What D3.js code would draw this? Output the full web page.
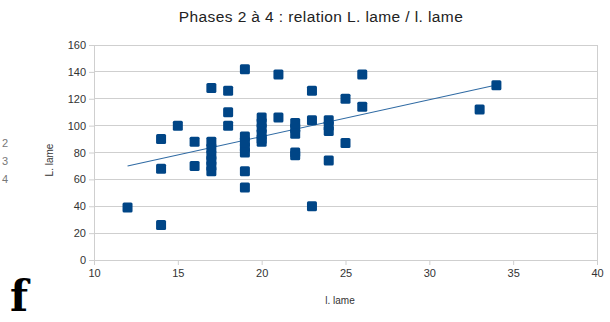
<!DOCTYPE html>
<html><head><meta charset="utf-8">
<script src="https://cdn.jsdelivr.net/npm/d3@7"></script>
<style>body{margin:0;background:#fff}svg{display:block}</style>
</head><body>
<script>
const title = "Phases 2 à 4 : relation L. lame / l. lame";
const xLabel = "l. lame";
const yLabel = "L. lame";
const xTicks = [10,15,20,25,30,35,40];
const yTicks = [0,20,40,60,80,100,120,140,160];
const largeur = [12,14,14,14,15,16,16,17,17,17,17,17,17,17,18,18,18,19,19,19,19,19,19,19,20,20,20,20,20,20,21,21,22,22,22,22,22,23,23,23,24,24,24,24,25,25,26,26,33,34];
const longueur = [39,90,68,26,100,88,70,128,88,83,78,74,70,66,126,110,100,142,92,88,84,80,66,54,106,102,98,94,90,88,138,106,102,98,94,80,78,126,104,40,104,100,96,74,120,87,138,114,112,130];
const legendResidue = ["2","3","4"];

const W=610,H=322;
const svg=d3.select("body").append("svg").attr("width",W).attr("height",H);
const x=d3.scaleLinear().domain([10,40]).range([94,597]);
const y=d3.scaleLinear().domain([0,160]).range([260,45]);
const grid="#cfcfcf";

svg.append("text").attr("x",321).attr("y",22).attr("text-anchor","middle")
  .attr("font-family","Liberation Sans, Arial, sans-serif").attr("font-size",15.5)
  .attr("letter-spacing",0.4).attr("fill","#222").text(title);

svg.append("g").selectAll("line").data(yTicks).join("line")
  .attr("x1",x(10)).attr("x2",x(40)).attr("y1",d=>y(d)).attr("y2",d=>y(d))
  .attr("stroke",grid).attr("stroke-width",1).attr("shape-rendering","crispEdges");
[10,40].forEach(v=>svg.append("line").attr("x1",x(v)).attr("x2",x(v)).attr("y1",y(160)).attr("y2",y(0))
  .attr("stroke",grid).attr("shape-rendering","crispEdges"));

const yAxis=d3.axisLeft(y).tickValues(yTicks).tickSize(5).tickPadding(3);
const gy=svg.append("g").attr("transform",`translate(${x(10)},0)`).call(yAxis);
gy.select(".domain").remove();
gy.selectAll("line").attr("stroke",grid);
gy.selectAll("text").attr("font-family","Liberation Sans, Arial, sans-serif").attr("font-size",11).attr("fill","#333");

const xAxis=d3.axisBottom(x).tickValues(xTicks).tickSize(5).tickPadding(4);
const gx=svg.append("g").attr("transform",`translate(0,${y(0)})`).call(xAxis);
gx.select(".domain").remove();
gx.selectAll("line").attr("stroke",grid);
gx.selectAll("text").attr("font-family","Liberation Sans, Arial, sans-serif").attr("font-size",11).attr("fill","#333");

svg.append("text").attr("x",340).attr("y",304).attr("text-anchor","middle")
  .attr("font-family","Liberation Sans, Arial, sans-serif").attr("font-size",10).attr("fill","#333").text(xLabel);
svg.append("text").attr("transform","translate(53,160) rotate(-90)").attr("text-anchor","middle")
  .attr("font-family","Liberation Sans, Arial, sans-serif").attr("font-size",10).attr("fill","#333").text(yLabel);

const n=largeur.length, mx=d3.mean(largeur), my=d3.mean(longueur);
let sxy=0,sxx=0;
for(let i=0;i<n;i++){sxy+=(largeur[i]-mx)*(longueur[i]-my);sxx+=(largeur[i]-mx)**2;}
const b=sxy/sxx,a=my-b*mx;
const xmin=d3.min(largeur),xmax=d3.max(largeur);
svg.append("line").attr("x1",x(xmin)).attr("y1",y(a+b*xmin)).attr("x2",x(xmax)).attr("y2",y(a+b*xmax))
  .attr("stroke","#2f6aa3").attr("stroke-width",1.1);

const s=10;
svg.append("g").selectAll("rect").data(largeur.map((v,i)=>[v,longueur[i]])).join("rect")
  .attr("x",d=>x(d[0])-s/2).attr("y",d=>y(d[1])-s/2).attr("width",s).attr("height",s)
  .attr("rx",1.5).attr("fill","#004586");

svg.append("g").selectAll("text").data(legendResidue).join("text")
  .attr("x",2).attr("y",(d,i)=>147+i*18).attr("font-family","Liberation Sans, Arial, sans-serif")
  .attr("font-size",11).attr("fill","#777").text(d=>d);

svg.append("text").attr("x",10).attr("y",311).attr("font-family","DejaVu Serif, Liberation Serif, serif")
  .attr("font-weight","bold").attr("font-size",42).attr("fill","#000").text("f");
</script>
</body></html>
